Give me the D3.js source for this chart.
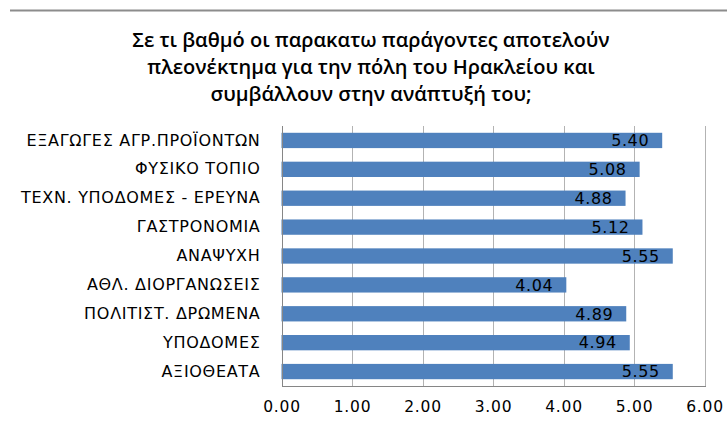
<!DOCTYPE html>
<html><head><meta charset="utf-8">
<script src="https://cdn.jsdelivr.net/npm/d3@7"></script>
<style>body{margin:0;background:#fff}svg{display:block}</style>
</head><body>
<script>
const titleLines = ["Σε τι βαθμό οι παρακατω παράγοντες αποτελούν","πλεονέκτημα για την πόλη του Ηρακλείου και","συμβάλλουν στην ανάπτυξή του;"];
const categories = ["ΕΞΑΓΩΓΕΣ ΑΓΡ.ΠΡΟΪΟΝΤΩΝ","ΦΥΣΙΚΟ ΤΟΠΙΟ","ΤΕΧΝ. ΥΠΟΔΟΜΕΣ - ΕΡΕΥΝΑ","ΓΑΣΤΡΟΝΟΜΙΑ","ΑΝΑΨΥΧΗ","ΑΘΛ. ΔΙΟΡΓΑΝΩΣΕΙΣ","ΠΟΛΙΤΙΣΤ. ΔΡΩΜΕΝΑ","ΥΠΟΔΟΜΕΣ","ΑΞΙΟΘΕΑΤΑ"];
const values = [5.40,5.08,4.88,5.12,5.55,4.04,4.89,4.94,5.55];
const ticks = [0,1,2,3,4,5,6];

(function(){
const W=727,H=428;
const svg=d3.select("body").append("svg").attr("width",W).attr("height",H);
const pL=281.5,pR=704.5,pT=126,pB=386;
const x=d3.scaleLinear().domain([0,6]).range([pL,pR]);
const y=d3.scaleBand().domain(categories).range([pT,pB]).paddingInner(0.47).paddingOuter(0.235);

svg.append("line").attr("x1",10).attr("x2",W).attr("y1",10.5).attr("y2",10.5).attr("stroke","#8c8c8c").attr("stroke-width",2);

const tt=svg.append("text").attr("text-anchor","middle").attr("font-family","'Open Sans'").attr("font-weight","600").attr("font-size",20).attr("fill","#000");
titleLines.forEach((l,i)=>tt.append("tspan").attr("x",371).attr("y",47+i*27).text(l));

svg.append("g").selectAll("line").data(ticks.slice(1)).join("line")
 .attr("x1",d=>Math.round(x(d))+0.5).attr("x2",d=>Math.round(x(d))+0.5).attr("y1",pT).attr("y2",pB)
 .attr("stroke","#b3b3b3").attr("stroke-width",1);

svg.append("g").selectAll("rect").data(values).join("rect")
 .attr("x",x(0)).attr("y",(d,i)=>y(categories[i])).attr("width",d=>x(d)-x(0)).attr("height",y.bandwidth())
 .attr("fill","#4f81bd");

svg.append("line").attr("x1",Math.round(pL)+0.5).attr("x2",Math.round(pL)+0.5).attr("y1",pT).attr("y2",pB+0.5).attr("stroke","#868686");
svg.append("line").attr("x1",Math.round(pL)).attr("x2",Math.round(pR)+1).attr("y1",pB+0.5).attr("y2",pB+0.5).attr("stroke","#868686");

const xa=d3.axisBottom(x).tickValues(ticks).tickFormat(d3.format(".2f")).tickSize(0).tickPadding(15);
const gx=svg.append("g").attr("transform",`translate(0,${pB})`).call(xa);
gx.select(".domain").remove();
gx.selectAll("text").attr("font-family","'DejaVu Sans'").attr("font-size",15.5).attr("letter-spacing",0.8).attr("fill","#000");

const ya=d3.axisLeft(y).tickSize(0).tickPadding(21);
const gy=svg.append("g").attr("transform",`translate(${pL},0)`).call(ya);
gy.select(".domain").remove();
gy.selectAll("text").attr("font-family","'DejaVu Sans'").attr("font-size",16).attr("letter-spacing",0.7).attr("fill","#000");

svg.append("g").selectAll("text").data(values).join("text")
 .attr("x",d=>x(d)-13).attr("y",(d,i)=>y(categories[i])+y.bandwidth()/2).attr("dy","0.36em")
 .attr("text-anchor","end").attr("font-family","'DejaVu Sans'").attr("font-size",16).attr("letter-spacing",0.6).attr("fill","#000")
 .text(d=>d3.format(".2f")(d));
})();
</script>
</body></html>
